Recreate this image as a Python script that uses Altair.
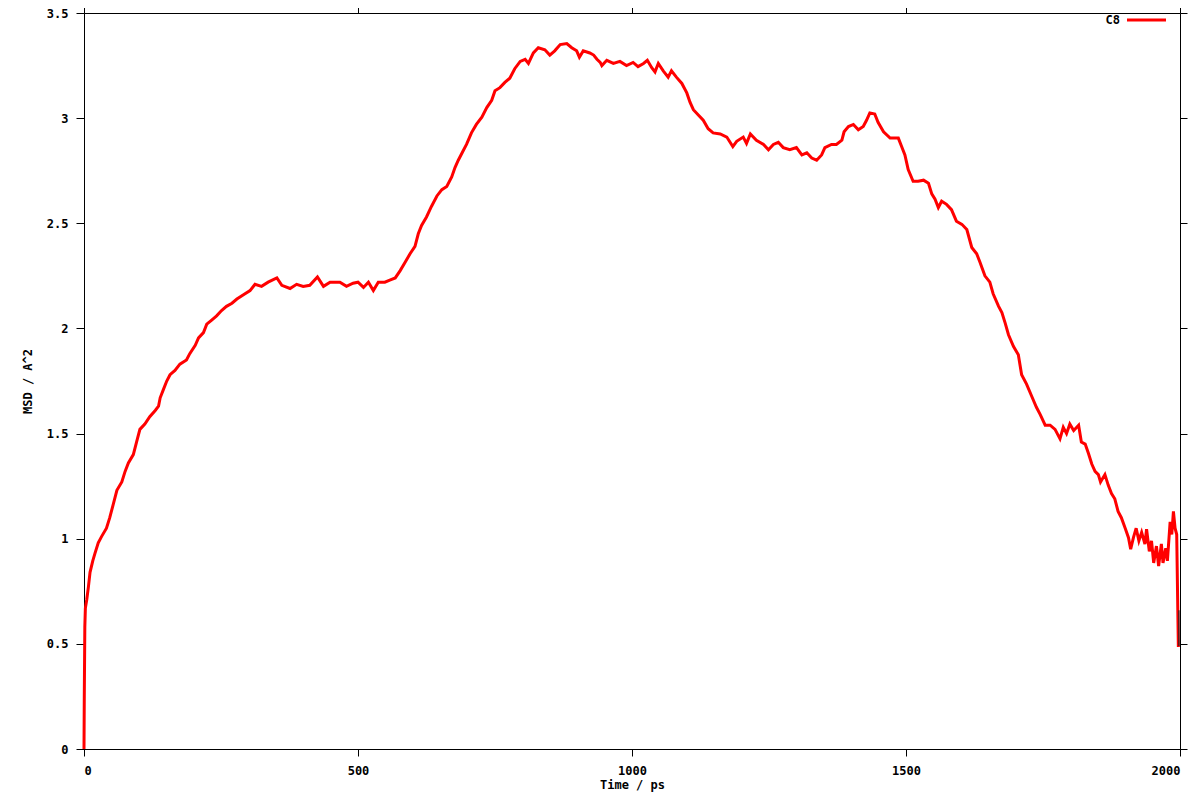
import altair as alt
import pandas as pd

# ---- data ----
time_ps = [0, 0.5, 1.5, 2.5, 5, 8, 11, 16, 20, 26, 32, 41, 47, 53, 60, 69, 75, 81, 90, 96,
           102, 111, 120, 130, 136, 139, 145, 151, 157, 166, 175, 187, 193, 203, 209, 218, 224,
           233, 242, 251, 260, 270, 279, 291, 303, 312, 324, 336, 352, 361, 376, 388, 400, 412,
           426, 437, 449, 467, 479, 491, 500, 510, 519, 528, 537, 549, 558, 568, 577, 586, 595,
           604, 610, 616, 625, 634, 644, 653, 662, 671, 677, 683, 691, 698, 707, 716, 726, 735,
           744, 750, 759, 768, 777, 786, 796, 805, 811, 820, 829, 841, 850, 859, 869, 881, 890,
           899, 904, 911, 923, 930, 936, 942, 945, 954, 966, 978, 990, 1002, 1011, 1021, 1028,
           1036, 1042, 1048, 1057, 1066, 1072, 1081, 1091, 1100, 1106, 1112, 1121, 1130, 1139,
           1148, 1161, 1173, 1184, 1191, 1203, 1209, 1216, 1227, 1240, 1249, 1258, 1267, 1276,
           1288, 1300, 1310, 1319, 1328, 1337, 1346, 1352, 1364, 1373, 1383, 1387, 1395, 1404,
           1413, 1422, 1428, 1434, 1443, 1449, 1459, 1471, 1486, 1492, 1498, 1504, 1513, 1522,
           1532, 1541, 1547, 1553, 1559, 1565, 1574, 1583, 1592, 1602, 1611, 1620, 1629, 1635,
           1644, 1653, 1659, 1669, 1675, 1681, 1687, 1696, 1705, 1711, 1720, 1729, 1738, 1745,
           1754, 1763, 1772, 1781, 1787, 1793, 1799, 1806, 1815, 1820, 1827, 1833, 1839, 1845,
           1851, 1855, 1863, 1869, 1875, 1881, 1887, 1893, 1900, 1906, 1910, 1915, 1920, 1925,
           1930, 1936, 1939, 1944, 1948, 1952, 1957, 1961, 1966, 1969, 1974, 1977, 1982, 1985,
           1988, 1991, 1994, 1996, 1997]
msd = [0.0, 0.24, 0.58, 0.67, 0.71, 0.77, 0.84, 0.895, 0.93, 0.98, 1.01, 1.05, 1.10, 1.16, 1.23,
       1.27, 1.32, 1.36, 1.40, 1.46, 1.52, 1.545, 1.58, 1.61, 1.63, 1.67, 1.71, 1.75, 1.78, 1.80,
       1.83, 1.85, 1.88, 1.92, 1.955, 1.98, 2.02, 2.04, 2.06, 2.085, 2.105, 2.12, 2.14, 2.16, 2.18,
       2.21, 2.20, 2.22, 2.24, 2.205, 2.19, 2.21, 2.20, 2.205, 2.245, 2.20, 2.22, 2.22, 2.20, 2.215,
       2.22, 2.195, 2.22, 2.18, 2.22, 2.22, 2.23, 2.24, 2.275, 2.315, 2.355, 2.39, 2.45, 2.49, 2.53,
       2.58, 2.63, 2.66, 2.675, 2.72, 2.765, 2.80, 2.84, 2.875, 2.93, 2.97, 3.005, 3.05, 3.085,
       3.13, 3.145, 3.17, 3.19, 3.235, 3.27, 3.28, 3.26, 3.31, 3.335, 3.325, 3.30, 3.32, 3.35,
       3.355, 3.335, 3.32, 3.29, 3.32, 3.31, 3.30, 3.28, 3.265, 3.25, 3.275, 3.26, 3.27, 3.25,
       3.265, 3.245, 3.26, 3.275, 3.24, 3.22, 3.26, 3.225, 3.195, 3.225, 3.195, 3.165, 3.12,
       3.075, 3.04, 3.015, 2.99, 2.95, 2.93, 2.925, 2.91, 2.865, 2.89, 2.91, 2.88, 2.925, 2.895,
       2.875, 2.85, 2.875, 2.885, 2.86, 2.85, 2.86, 2.825, 2.835, 2.81, 2.80, 2.825, 2.86, 2.875,
       2.875, 2.895, 2.935, 2.96, 2.97, 2.945, 2.96, 2.99, 3.025, 3.02, 2.98, 2.935, 2.905, 2.905,
       2.865, 2.825, 2.755, 2.70, 2.70, 2.705, 2.69, 2.64, 2.615, 2.575, 2.605, 2.59, 2.565, 2.51,
       2.495, 2.47, 2.385, 2.355, 2.315, 2.25, 2.22, 2.165, 2.105, 2.075, 2.025, 1.97, 1.915,
       1.875, 1.78, 1.735, 1.68, 1.625, 1.59, 1.54, 1.54, 1.52, 1.475, 1.53, 1.50, 1.545, 1.515,
       1.54, 1.46, 1.45, 1.405, 1.355, 1.32, 1.305, 1.27, 1.305, 1.255, 1.215, 1.19, 1.13, 1.10,
       1.05, 1.005, 0.95, 1.005, 1.05, 0.99, 1.03, 0.975, 1.045, 0.94, 0.99, 0.885, 0.965, 0.87,
       0.975, 0.885, 0.955, 0.895, 1.08, 1.02, 1.13, 1.05, 1.02, 0.66, 0.485]
tail_time = [1998, 1998]
tail_msd = [0.66, 0.49]
x_ticks = [0, 500, 1000, 1500, 2000]
y_ticks = [0, 0.5, 1, 1.5, 2, 2.5, 3, 3.5]
series_name = "C8"
LINE_RED = "#ff0000"

df = pd.DataFrame({"t": time_ps, "msd": msd})
tail = pd.DataFrame({"t": tail_time, "msd": tail_msd})
legend_df = pd.DataFrame({"label": [series_name]})

FONT = "DejaVu Sans Mono"
FS = 12
xs = alt.Scale(domain=[0, 2000], nice=False, zero=False)
ys = alt.Scale(domain=[0, 3.5], nice=False)

line = alt.Chart(df).mark_line(strokeWidth=3, color=LINE_RED).encode(
    x=alt.X("t:Q", scale=xs,
            axis=alt.Axis(orient="bottom", values=x_ticks, format="d", title="Time / ps",
                          tickSize=7, labelPadding=9, titlePadding=3)),
    y=alt.Y("msd:Q", scale=ys,
            axis=alt.Axis(orient="left", values=y_ticks, labelExpr="'' + datum.value",
                          title="MSD / A^2", tickSize=8, labelPadding=8, titlePadding=12)),
)

tail_line = alt.Chart(tail).mark_line(color="#222222", strokeWidth=1.2).encode(
    x=alt.X("t:Q", scale=xs,
            axis=alt.Axis(orient="top", values=x_ticks, labels=False, title=None,
                          tickSize=7, domain=False)),
    y=alt.Y("msd:Q", scale=ys,
            axis=alt.Axis(orient="right", values=y_ticks, labels=False, title=None,
                          tickSize=7, domain=False)),
)

# key (gnuplot style: label on the left, sample line on the right)
key_text = alt.Chart(legend_df).mark_text(
    align="right", baseline="middle", font=FONT, fontWeight="bold", fontSize=FS, color="black"
).encode(text="label:N", x=alt.value(1036), y=alt.value(7))
key_line = alt.Chart(legend_df).mark_rule(color=LINE_RED, strokeWidth=3).encode(
    x=alt.value(1043), x2=alt.value(1082), y=alt.value(7))

chart = (
    alt.layer(line, tail_line, key_text, key_line)
    .resolve_axis(x="independent", y="independent")
    .properties(width=1096, height=736,
                autosize=alt.AutoSizeParams(type="none"),
                padding={"left": 76, "top": 5, "right": 12, "bottom": 43})
    .configure_view(stroke="black", strokeWidth=1)
    .configure_axis(grid=False, domainColor="black", tickColor="black",
                    labelFont=FONT, titleFont=FONT, labelFontWeight="bold",
                    titleFontWeight="bold", labelFontSize=FS, titleFontSize=FS,
                    labelColor="black", titleColor="black", domainWidth=1, tickWidth=1)
)

chart.save("out.html", embed_options={"renderer": "svg", "actions": False})
